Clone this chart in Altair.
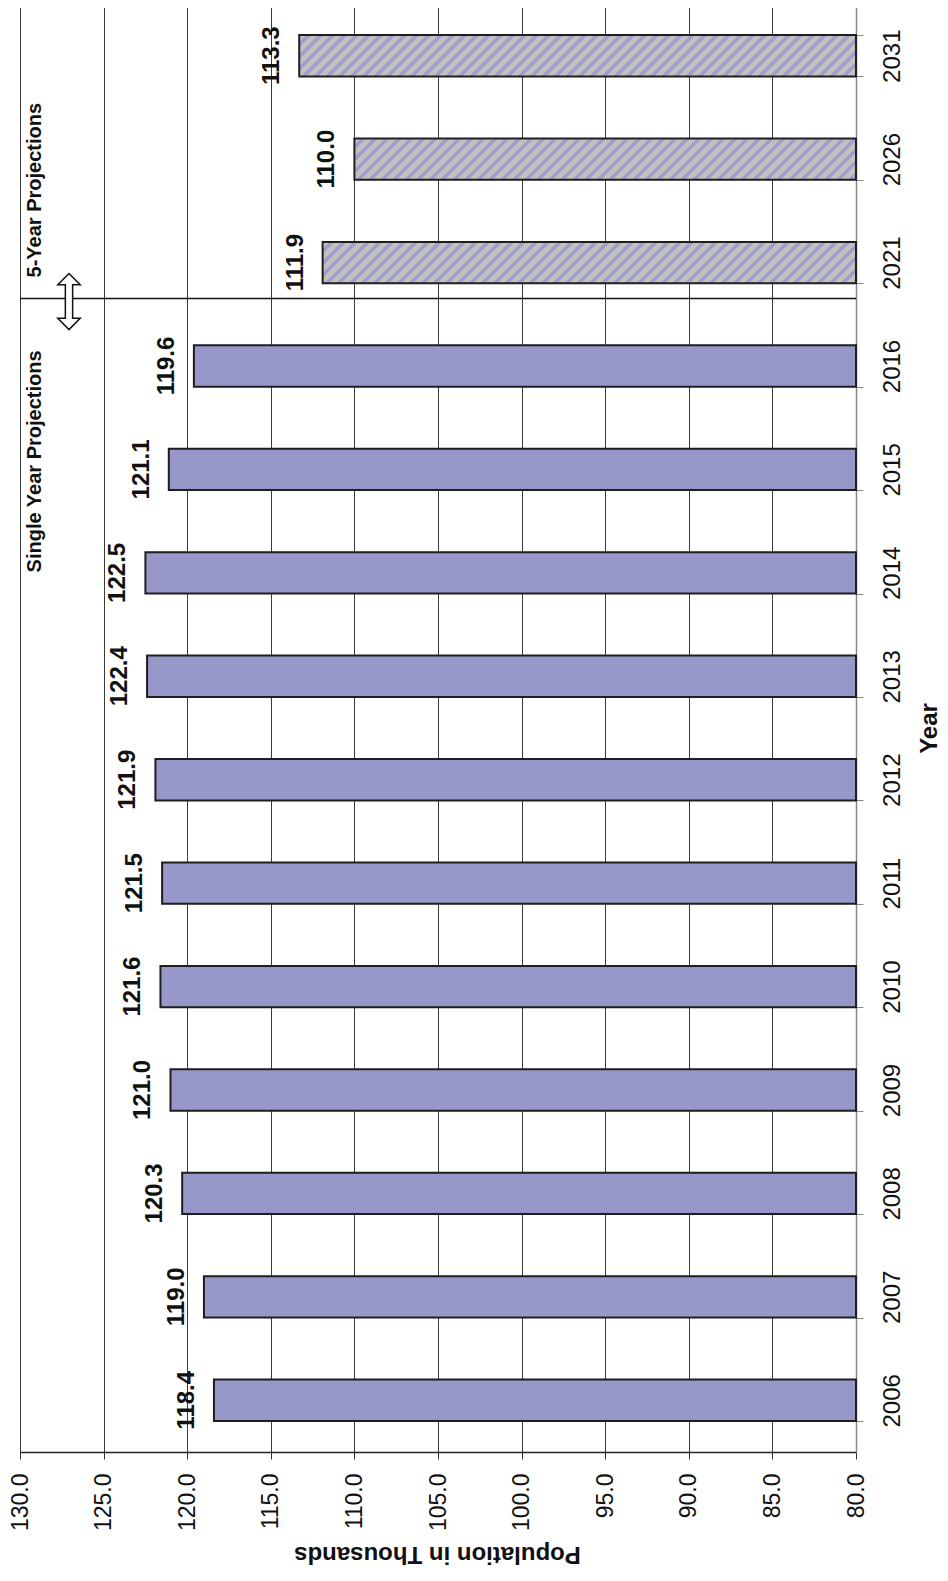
import altair as alt
import pandas as pd

# ---------------- data ----------------
years = ["2006", "2007", "2008", "2009", "2010", "2011", "2012", "2013",
         "2014", "2015", "2016", "2021", "2026", "2031"]
population = [118.4, 119.0, 120.3, 121.0, 121.6, 121.5, 121.9, 122.4,
              122.5, 121.1, 119.6, 111.9, 110.0, 113.3]
series = ["single"] * 11 + ["five"] * 3
pop_ticks = [80.0, 85.0, 90.0, 95.0, 100.0, 105.0, 110.0, 115.0, 120.0, 125.0, 130.0]
note_text = ["Single Year Projections", "5-Year Projections"]
note_year = ["2015", "2026"]
divider_year = ["2021"]

# ---------------- layout / style constants ----------------
PLOT_W = 836
PLOT_H = 1448
BAND_H = 0.4 * PLOT_H / len(years)
FONT = "Liberation Sans"
BAR_FILL = "#9797ca"
BAR_STROKE = "#1e1e1e"
HATCH_GRAY = "#c0c0c0"
HATCH_BLUE = "#9e9ed4"
HATCH_PERIOD = 12.0
HATCH_GRAY_FRAC = 0.58
ARROW = "M0,-1L0.4,-0.6L0.13,-0.6L0.13,0.6L0.4,0.6L0,1L-0.4,0.6L-0.13,0.6L-0.13,-0.6L-0.4,-0.6Z"

df = pd.DataFrame({"year": years, "pop": population, "series": series})
y_order = years[::-1]

xs = alt.Scale(domain=[80, 130], reverse=True, nice=False, zero=False)
ys = alt.Scale(domain=y_order, paddingInner=0.6, paddingOuter=0.3)

x_axis = alt.Axis(
    values=pop_ticks, format=".1f", title="Population in Thousands",
    grid=True, gridColor="#3a3a3a", gridWidth=1,
    domainColor="#222222", domainWidth=1.5,
    tickColor="#333333", tickSize=7, tickWidth=1,
    labelAngle=270, labelAlign="right", labelBaseline="middle", labelPadding=14,
    labelFont=FONT, labelFontSize=23, labelColor="#111111", labelOverlap=False,
    titleFont=FONT, titleFontSize=24, titleFontWeight="bold", titleColor="#111111",
    titleAngle=180, titleBaseline="middle", titleAlign="center",
    titleX=417, titleY=101,
)
y_axis = alt.Axis(
    title="Year", orient="right", grid=False, tickBand="extent",
    domainColor="#888888", domainWidth=1.5,
    tickColor="#888888", tickSize=7, tickWidth=1,
    labelAngle=270, labelAlign="center", labelBaseline="middle", labelPadding=29,
    labelFont=FONT, labelFontSize=24, labelColor="#111111", labelOverlap=False,
    titleFont=FONT, titleFontSize=24, titleFontWeight="bold", titleColor="#111111",
    titleAngle=270, titleBaseline="middle", titleAlign="center",
    titleX=73, titleY=PLOT_H / 2,
)


def enc_x():
    return alt.X("pop:Q", scale=xs, axis=x_axis)


def enc_y():
    return alt.Y("year:N", scale=ys, axis=y_axis)


def hatch_fill(value):
    w = (value - 80) * PLOT_W / 50.0
    h = BAND_H
    r = h / w
    a = (1 + r) / (1 + r * r)
    n = (w + h) / HATCH_PERIOD
    stops = []
    k = 0
    while k < n:
        o0 = round(k / n, 5)
        o1 = round(min((k + HATCH_GRAY_FRAC) / n, 1.0), 5)
        o2 = round(min((k + 1) / n, 1.0), 5)
        stops += [alt.GradientStop(offset=o0, color=HATCH_GRAY),
                  alt.GradientStop(offset=o1, color=HATCH_GRAY),
                  alt.GradientStop(offset=o1, color=HATCH_BLUE),
                  alt.GradientStop(offset=o2, color=HATCH_BLUE)]
        k += 1
    return alt.LinearGradient(gradient="linear", stops=stops,
                              x1=0, y1=0, x2=a, y2=a * r)


base = alt.Chart(df)

solid = base.transform_filter(alt.datum.series == "single").mark_bar(
    fill=BAR_FILL, stroke=BAR_STROKE, strokeWidth=2
).encode(x=enc_x(), x2=alt.datum(80), y=enc_y())

layers = [solid]
for yr, val, s in zip(years, population, series):
    if s == "five":
        layers.append(
            base.transform_filter(alt.datum.year == yr).mark_bar(
                fill=hatch_fill(val), stroke=BAR_STROKE, strokeWidth=2
            ).encode(x=enc_x(), x2=alt.datum(80), y=enc_y())
        )

values = base.mark_text(
    angle=270, align="center", baseline="middle", dy=-27,
    font=FONT, fontSize=24, fontWeight="bold", color="#111111"
).encode(x=enc_x(), y=enc_y(), text=alt.Text("pop:Q", format=".1f"))
layers.append(values)

# divider between single-year and 5-year projections
div_df = pd.DataFrame({"year": divider_year, "pop": [130.0]})
divider = alt.Chart(div_df).mark_rule(
    color="#111111", strokeWidth=1.5, yOffset=36
).encode(x=enc_x(), x2=alt.datum(80), y=enc_y())
layers.append(divider)

arrow_df = pd.DataFrame({"year": divider_year, "pop": [127.07]})
arrow = alt.Chart(arrow_df).mark_point(
    shape=ARROW, size=3136, filled=True, fill="white", stroke="#111111",
    strokeWidth=1.5, opacity=1, yOffset=39
).encode(x=enc_x(), y=enc_y())
layers.append(arrow)

note_df = pd.DataFrame({"year": note_year, "pop": [129.1, 129.1], "label": note_text})
note_offsets = [-8, 31]
for i in range(len(note_text)):
    layers.append(
        alt.Chart(note_df).transform_filter(alt.datum.label == note_text[i]).mark_text(
            angle=270, align="center", baseline="middle", yOffset=note_offsets[i],
            font=FONT, fontSize=20, fontWeight="bold", color="#111111"
        ).encode(x=enc_x(), y=enc_y(), text="label:N")
    )

chart = alt.layer(*layers).properties(
    width=PLOT_W, height=PLOT_H,
    autosize=alt.AutoSizeParams(type="none"),
    padding={"left": 12, "top": -4, "right": 84, "bottom": 116},
    background="white",
).configure_view(stroke="transparent")

chart.save("out.html", embed_options={"renderer": "svg", "actions": False})
